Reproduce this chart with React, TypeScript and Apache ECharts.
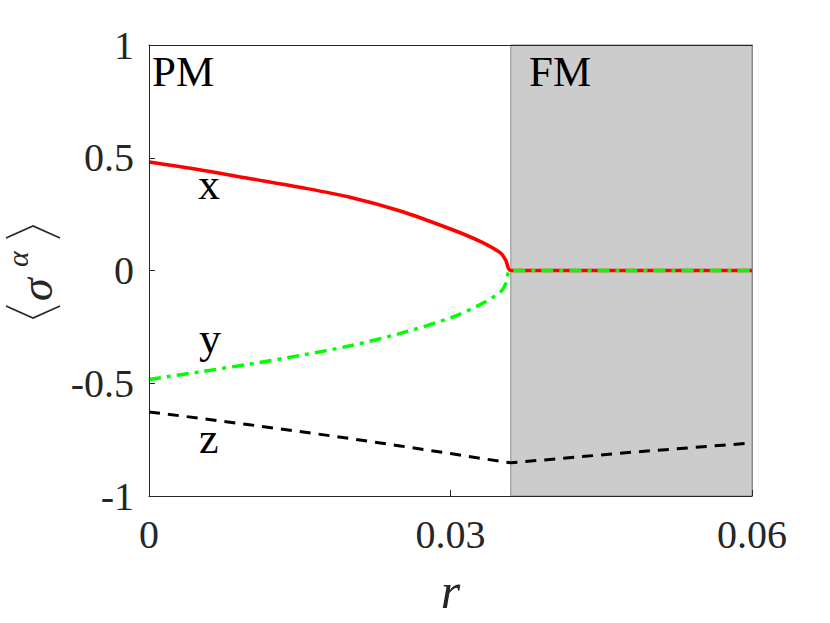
import React, { useEffect, useRef } from "react";
import * as echarts from "echarts";

const rPM = [0, 0.005, 0.01, 0.015, 0.02, 0.025, 0.03, 0.033, 0.035, 0.0355, 0.036];
const rFM = [0.036, 0.048, 0.06];
const xPM = [0.481, 0.447, 0.408, 0.369, 0.325, 0.264, 0.184, 0.128, 0.077, 0.045, 0.0];
const xFM = [0.0, 0.0, 0.0];
const yPM = [-0.483, -0.45, -0.415, -0.377, -0.334, -0.279, -0.21, -0.15, -0.094, -0.058, 0.0];
const yFM = [0.0, 0.0, 0.0];
const zPM = [-0.627, -0.655, -0.684, -0.714, -0.745, -0.778, -0.812, -0.833, -0.846, -0.85, -0.853];
const zFM = [-0.853, -0.806, -0.765];
const rCritical = 0.036;
const xTicks = [0, 0.03, 0.06];
const yTickLabels: Record<string, string> = { "-1": "-1", "-0.5": "-0.5", "0": "0", "0.5": "0.5", "1": "1" };

const pair = (r: number[], v: number[]) => r.map((ri, i) => [ri, v[i]]);

const FONT = "Liberation Serif";

export default function App() {
  const ref = useRef<HTMLDivElement>(null);
  useEffect(() => {
    if (!ref.current) return;
    const chart = echarts.init(ref.current, null, { renderer: "svg" });
    const zData = [...pair(rPM, zPM), ...pair(rFM, zFM).slice(1)];
    const xData = [...pair(rPM, xPM), ...pair(rFM, xFM).slice(1)];
    const yData = [...pair(rPM, yPM), ...pair(rFM, yFM).slice(1)];
    chart.setOption({
      animation: false,
      backgroundColor: "#ffffff",
      grid: { left: 149, right: 78, top: 45, bottom: 127, containLabel: false },
      xAxis: [
        {
          type: "value",
          min: xTicks[0],
          max: xTicks[xTicks.length - 1],
          interval: 0.03,
          z: 10,
          axisLine: { show: true, onZero: false, lineStyle: { color: "#262626", width: 1 } },
          axisTick: { show: true, inside: true, length: 6, lineStyle: { color: "#262626" } },
          splitLine: { show: false },
          axisLabel: {
            color: "#262626",
            fontFamily: FONT,
            fontSize: 40,
            margin: 18,
            formatter: (v: number) => String(Math.round(v * 100) / 100),
          },
          name: "r",
          nameLocation: "middle",
          nameGap: 70,
          nameTextStyle: { color: "#262626", fontFamily: FONT, fontSize: 50, fontStyle: "italic" },
        },
        {
          type: "value",
          position: "top",
          min: 0,
          max: 0.06,
          interval: 0.03,
          z: 10,
          axisLine: { show: true, onZero: false, lineStyle: { color: "#262626", width: 1 } },
          axisTick: { show: false },
          axisLabel: { show: false },
          splitLine: { show: false },
        },
      ],
      yAxis: [
        {
          type: "value",
          min: -1,
          max: 1,
          interval: 0.5,
          z: 10,
          axisLine: { show: true, onZero: false, lineStyle: { color: "#262626", width: 1 } },
          axisTick: { show: true, inside: true, length: 6, lineStyle: { color: "#262626" } },
          splitLine: { show: false },
          axisLabel: {
            color: "#262626",
            fontFamily: FONT,
            fontSize: 40,
            margin: 15,
            formatter: (v: number) => yTickLabels[String(v)] ?? String(v),
          },
        },
        {
          type: "value",
          position: "right",
          min: -1,
          max: 1,
          interval: 0.5,
          z: 10,
          axisLine: { show: true, onZero: false, lineStyle: { color: "#8c8c8c", width: 1 } },
          axisTick: { show: false },
          axisLabel: { show: false },
          splitLine: { show: false },
        },
      ],
      series: [
        {
          type: "line",
          name: "z",
          data: zData,
          symbol: "none",
          lineStyle: { color: "#000000", width: 3, type: [11, 8] },
          z: 3,
          markArea: {
            silent: true,
            itemStyle: { color: "#cccccc", borderColor: "#8c8c8c", borderWidth: 1 },
            data: [[{ xAxis: rCritical, yAxis: -1 }, { xAxis: 0.06, yAxis: 1 }]],
          },
        },
        {
          type: "line",
          name: "x",
          data: xData,
          symbol: "none",
          smooth: 0.3,
          lineStyle: { color: "#ff0000", width: 3.5, type: "solid" },
          z: 4,
        },
        {
          type: "line",
          name: "y",
          data: yData,
          symbol: "none",
          smooth: 0.3,
          lineStyle: { color: "#00ff00", width: 3.5, type: [12, 6, 4, 6] },
          z: 5,
        },
      ],
      graphic: [
        { type: "text", left: 152, top: 50, style: { text: "PM", font: `43px "${FONT}"`, fill: "#000" }, z: 20 },
        { type: "text", left: 529, top: 50, style: { text: "FM", font: `43px "${FONT}"`, fill: "#000" }, z: 20 },
        { type: "text", left: 198, top: 162, style: { text: "x", font: `44px "${FONT}"`, fill: "#000" }, z: 20 },
        { type: "text", left: 199, top: 316, style: { text: "y", font: `44px "${FONT}"`, fill: "#000" }, z: 20 },
        { type: "text", left: 199, top: 416, style: { text: "z", font: `44px "${FONT}"`, fill: "#000" }, z: 20 },
        {
          type: "group",
          x: 33,
          y: 272,
          rotation: Math.PI / 2,
          z: 20,
          children: [
            { type: "polyline", shape: { points: [[-34, -27], [-46, 0], [-34, 27]] }, style: { stroke: "#262626", lineWidth: 1.6, fill: "none" } },
            { type: "text", x: -29, y: 3, style: { text: "σ", font: `italic 46px "${FONT}"`, fill: "#262626", textVerticalAlign: "middle" } },
            { type: "text", x: 5, y: -16, style: { text: "α", font: `italic 30px "${FONT}"`, fill: "#262626", textVerticalAlign: "middle" } },
            { type: "polyline", shape: { points: [[34, -27], [46, 0], [34, 27]] }, style: { stroke: "#262626", lineWidth: 1.6, fill: "none" } },
          ],
        },
      ],
    });
    return () => chart.dispose();
  }, []);
  return <div ref={ref} style={{ position: "absolute", left: 0, top: 0, width: 830, height: 623 }} />;
}
